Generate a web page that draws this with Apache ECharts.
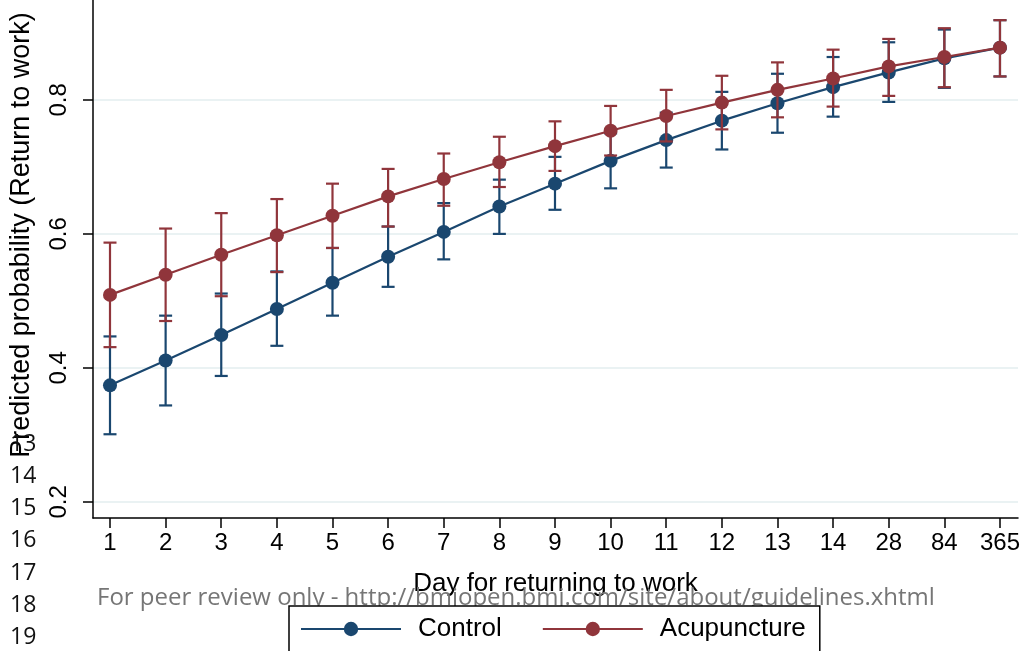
<!DOCTYPE html>
<html lang="en">
<head>
    <meta charset="UTF-8">
    <title>Predicted probability of return to work</title>
    <style>
        html, body { margin: 0; padding: 0; background: #fff; }
    </style>
</head>
<body>
<div id="main" style="width:1025px;height:651px;"></div>

<script src="https://cdn.jsdelivr.net/npm/echarts@6/dist/echarts.min.js"></script>
<script>
    // x categories (days) and the y ticks
    var days = ['1', '2', '3', '4', '5', '6', '7', '8', '9', '10', '11', '12', '13', '14', '28', '84', '365'];
    var yTicks = [0.2, 0.4, 0.6, 0.8];

    // Control group: predicted probability and 95% CI
    var ctrlMean = [0.374, 0.411, 0.449, 0.488, 0.527, 0.566, 0.603, 0.641, 0.675, 0.709, 0.740, 0.769, 0.795, 0.819, 0.841, 0.862, 0.878];
    var ctrlLow = [0.301, 0.344, 0.388, 0.433, 0.478, 0.521, 0.562, 0.600, 0.636, 0.668, 0.699, 0.726, 0.751, 0.775, 0.797, 0.818, 0.835];
    var ctrlHigh = [0.447, 0.478, 0.511, 0.544, 0.579, 0.611, 0.646, 0.681, 0.715, 0.750, 0.781, 0.812, 0.839, 0.864, 0.886, 0.905, 0.919];

    // Acupuncture group
    var acuMean = [0.509, 0.539, 0.569, 0.598, 0.627, 0.656, 0.682, 0.707, 0.731, 0.754, 0.776, 0.796, 0.815, 0.832, 0.850, 0.864, 0.878];
    var acuLow = [0.431, 0.470, 0.507, 0.543, 0.579, 0.611, 0.642, 0.670, 0.694, 0.717, 0.738, 0.756, 0.774, 0.790, 0.806, 0.819, 0.835];
    var acuHigh = [0.587, 0.608, 0.631, 0.652, 0.675, 0.697, 0.720, 0.745, 0.768, 0.791, 0.815, 0.836, 0.856, 0.875, 0.891, 0.907, 0.919];

    var navy = '#1a476f';
    var maroon = '#90353b';
    var positions = days.map(function (d, i) { return i + 1; });

    function points(vals) {
        return vals.map(function (v, i) { return [i + 1, v]; });
    }

    // rcap style error bars
    function errorBars(name, low, high, color, z) {
        return {
            name: name,
            type: 'custom',
            silent: true,
            z: z,
            data: low.map(function (v, i) { return [i + 1, v, high[i]]; }),
            encode: {x: 0, y: [1, 2]},
            renderItem: function (params, api) {
                var x = api.value(0);
                var lo = api.coord([x, api.value(1)]);
                var hi = api.coord([x, api.value(2)]);
                var w = 6.5;
                var st = {stroke: color, lineWidth: 2.2, fill: null};
                return {
                    type: 'group',
                    children: [
                        {type: 'line', shape: {x1: lo[0], y1: lo[1], x2: hi[0], y2: hi[1]}, style: st},
                        {type: 'line', shape: {x1: lo[0] - w, y1: lo[1], x2: lo[0] + w, y2: lo[1]}, style: st},
                        {type: 'line', shape: {x1: hi[0] - w, y1: hi[1], x2: hi[0] + w, y2: hi[1]}, style: st}
                    ]
                };
            }
        };
    }

    function connected(name, vals, color, z) {
        return {
            name: name,
            type: 'line',
            z: z,
            data: points(vals),
            symbol: 'circle',
            symbolSize: 14,
            showSymbol: true,
            itemStyle: {color: color},
            lineStyle: {color: color, width: 2.2}
        };
    }

    // line numbers and watermark from the manuscript page
    var lineNums = [];
    ['13', '14', '15', '16', '17', '18', '19'].forEach(function (t, i) {
        lineNums.push({
            type: 'text',
            x: 10,
            y: 444 + i * 32.3,
            z: 1,
            style: {
                text: t,
                font: '23px "Open Sans"',
                fill: '#111',
                textVerticalAlign: 'middle'
            }
        });
    });

    var myChart = echarts.init(document.getElementById('main'));
    myChart.setOption({
        animation: false,
        backgroundColor: '#fff',
        grid: {left: 93, right: 7, top: 0, bottom: 133},
        xAxis: {
            type: 'value',
            min: 0.6944,
            max: 17.324,
            name: 'Day for returning to work',
            nameLocation: 'middle',
            nameGap: 53,
            nameTextStyle: {fontFamily: 'Liberation Sans', fontSize: 26, color: '#000'},
            axisLine: {show: true, lineStyle: {color: '#000', width: 1.5}},
            axisTick: {show: true, length: 10, customValues: positions, lineStyle: {color: '#000', width: 1.5}},
            axisLabel: {
                customValues: positions,
                margin: 13,
                fontFamily: 'Liberation Sans',
                fontSize: 24,
                color: '#000',
                formatter: function (v) { return days[Math.round(v) - 1]; }
            },
            splitLine: {show: false}
        },
        yAxis: {
            type: 'value',
            min: 0.176,
            max: 0.9491,
            name: 'Predicted probability (Return to work)',
            nameLocation: 'middle',
            nameGap: 58,
            nameTextStyle: {fontFamily: 'Liberation Sans', fontSize: 27, color: '#000', padding: [0, 0, 0, 48]},
            axisLine: {show: true, lineStyle: {color: '#000', width: 1.5}},
            axisTick: {show: true, length: 10, customValues: yTicks, lineStyle: {color: '#000', width: 1.5}},
            axisLabel: {
                customValues: yTicks,
                rotate: 90,
                margin: 22,
                fontFamily: 'Liberation Sans',
                fontSize: 24,
                color: '#000',
                formatter: function (v) { return v.toFixed(1); }
            },
            splitLine: {show: true, lineStyle: {color: '#eaf2f3', width: 2}}
        },
        legend: {
            data: ['Control', 'Acupuncture'],
            left: 289,
            top: 606,
            orient: 'horizontal',
            itemWidth: 100,
            itemHeight: 18,
            itemGap: 40,
            padding: [10, 14, 30, 11],
            borderColor: '#000',
            borderWidth: 1.5,
            backgroundColor: '#fff',
            textStyle: {fontFamily: 'Liberation Sans', fontSize: 26, color: '#000', padding: [0, 0, 0, 12]}
        },
        graphic: lineNums.concat([{
            type: 'text',
            x: 97,
            y: 598,
            z: 1,
            style: {
                text: 'For peer review only - http://bmjopen.bmj.com/site/about/guidelines.xhtml',
                font: '24px "Open Sans"',
                fill: '#767676',
                textVerticalAlign: 'middle'
            }
        }]),
        series: [
            errorBars('Control CI', ctrlLow, ctrlHigh, navy, 2),
            connected('Control', ctrlMean, navy, 3),
            errorBars('Acupuncture CI', acuLow, acuHigh, maroon, 4),
            connected('Acupuncture', acuMean, maroon, 5)
        ]
    });
</script>
</body>
</html>
